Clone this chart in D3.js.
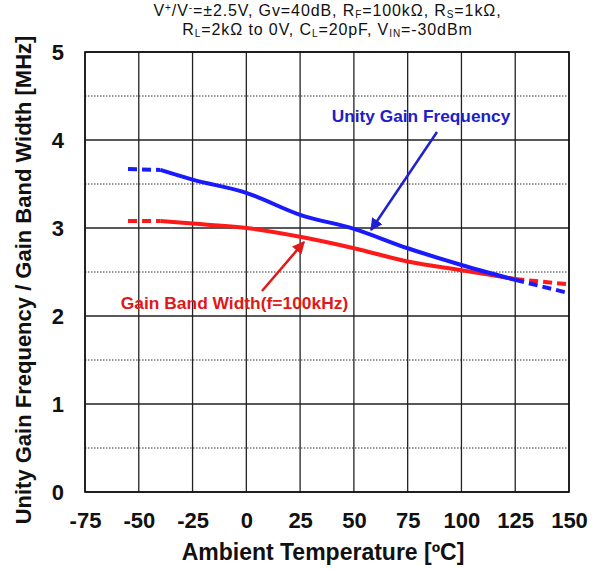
<!DOCTYPE html>
<html><head><meta charset="utf-8">
<script src="https://cdn.jsdelivr.net/npm/d3@7"></script>
<style>body{margin:0;background:#fff}svg{display:block;font-family:"Liberation Sans",Arial,sans-serif}</style>
</head><body><svg id="c" width="600" height="569"></svg>
<script>
const xTicks = [-75,-50,-25,0,25,50,75,100,125,150];
const yTicks = [0,1,2,3,4,5];
const yMinor = [0.5,1.5,2.5,3.5,4.5];
const tempSolid = [-40,-25,0,25,50,75,100,125];
const ugfSolid = [3.66,3.55,3.40,3.15,2.99,2.77,2.58,2.41];
const gbwSolid = [3.08,3.05,3.00,2.90,2.77,2.62,2.52,2.42];
const tempLow = [-55,-40];
const ugfLow = [3.67,3.66];
const gbwLow = [3.08,3.08];
const tempHigh = [125,150];
const ugfHigh = [2.41,2.26];
const gbwHigh = [2.42,2.36];

const svg = d3.select("#c");
const m = {l:85, r:569, t:52, b:492};
const x = d3.scaleLinear().domain([-75,150]).range([m.l,m.r]);
const y = d3.scaleLinear().domain([0,5]).range([m.b,m.t]);

// grid
svg.append("g").selectAll("line").data(yMinor).join("line")
  .attr("x1",m.l).attr("x2",m.r).attr("y1",d=>y(d)).attr("y2",d=>y(d))
  .attr("stroke","#333").attr("stroke-width",1).attr("stroke-dasharray","1.5,1.5");
svg.append("g").selectAll("line").data(yTicks).join("line")
  .attr("x1",m.l).attr("x2",m.r).attr("y1",d=>y(d)).attr("y2",d=>y(d))
  .attr("stroke","#222").attr("stroke-width",1.3);
svg.append("g").selectAll("line").data(xTicks).join("line")
  .attr("x1",d=>x(d)).attr("x2",d=>x(d)).attr("y1",m.t).attr("y2",m.b)
  .attr("stroke","#222").attr("stroke-width",1.3);
svg.append("rect").attr("x",m.l).attr("y",m.t).attr("width",m.r-m.l).attr("height",m.b-m.t)
  .attr("fill","none").attr("stroke","#111").attr("stroke-width",1.6);

// axes labels via d3 axes
const xa = svg.append("g").attr("transform",`translate(0,${m.b})`)
  .call(d3.axisBottom(x).tickValues(xTicks).tickFormat(d=>String(d)).tickSize(0).tickPadding(20));
const ya = svg.append("g").attr("transform",`translate(${m.l},0)`)
  .call(d3.axisLeft(y).tickValues(yTicks).tickFormat(d=>String(d)).tickSize(0).tickPadding(21));
[xa,ya].forEach(a=>{a.select(".domain").remove();
  a.selectAll("text").attr("font-size",22).attr("font-weight","bold").attr("fill","#111")
   .attr("font-family","Liberation Sans, Arial, sans-serif");});

// curves
const line = d3.line().x(d=>x(d[0])).y(d=>y(d[1])).curve(d3.curveMonotoneX);
const zip = (a,b)=>a.map((v,i)=>[v,b[i]]);
const series = [
  {t:tempSolid, v:ugfSolid, c:"#1a1aff", dash:null},
  {t:tempLow, v:ugfLow, c:"#1a1aff", dash:"9,5"},
  {t:tempHigh, v:ugfHigh, c:"#1a1aff", dash:"9,5"},
  {t:tempSolid, v:gbwSolid, c:"#ff1a1a", dash:null},
  {t:tempLow, v:gbwLow, c:"#ff1a1a", dash:"9,5"},
  {t:tempHigh, v:gbwHigh, c:"#ff1a1a", dash:"9,5"}
];
[3,4,5,0,1,2].forEach(i=>{const s=series[i];
  svg.append("path").attr("d",line(zip(s.t,s.v))).attr("fill","none")
   .attr("stroke",s.c).attr("stroke-width",4).attr("stroke-dasharray",s.dash);
});

// annotations
const defs = svg.append("defs");
[["ab","#2020d0"],["ar","#e01818"]].forEach(([id,c])=>{
  defs.append("marker").attr("id",id).attr("viewBox","0 0 10 10").attr("refX",9).attr("refY",5)
   .attr("markerWidth",5).attr("markerHeight",5).attr("orient","auto")
   .append("path").attr("d","M0,0L10,5L0,10z").attr("fill",c);
});
svg.append("line").attr("x1",437).attr("y1",132).attr("x2",371).attr("y2",230)
  .attr("stroke","#2020d0").attr("stroke-width",2.5).attr("marker-end","url(#ab)");
svg.append("text").attr("x",421).attr("y",121.5).attr("text-anchor","middle")
  .attr("font-size",17.3).attr("font-weight","bold").attr("fill","#2020c8").text("Unity Gain Frequency");
svg.append("line").attr("x1",262).attr("y1",291).attr("x2",304).attr("y2",242)
  .attr("stroke","#e01818").attr("stroke-width",2.5).attr("marker-end","url(#ar)");
svg.append("text").attr("x",234.5).attr("y",309).attr("text-anchor","middle")
  .attr("font-size",17.4).attr("font-weight","bold").attr("fill","#e01818").text("Gain Band Width(f=100kHz)");

// title
function addParts(t,parts){
  parts.forEach(([s,k])=>{
    const ts=t.append("tspan").text(s);
    if(k==="sup") ts.attr("font-size",10).attr("dy",-5);
    if(k==="sub") ts.attr("font-size",10).attr("dy",2);
    if(k==="back") ts.attr("dy",-2);
    if(k==="backsup") ts.attr("dy",5);
  });
}
const parts1 = [["V"],["+","sup"],["/V","backsup"],["-","sup"],["=±2.5V, Gv=40dB, R","backsup"],["F","sub"],["=100kΩ, R","back"],["S","sub"],["=1kΩ,","back"]];
const parts2 = [["R"],["L","sub"],["=2kΩ to 0V, C","back"],["L","sub"],["=20pF, V","back"],["IN","sub"],["=-30dBm","back"]];
const t1 = svg.append("text").attr("x",327.5).attr("y",16).attr("text-anchor","middle")
  .attr("font-size",16).attr("fill","#111").attr("letter-spacing","0.9");
addParts(t1,parts1);
const t2 = svg.append("text").attr("x",327.5).attr("y",35).attr("text-anchor","middle")
  .attr("font-size",16).attr("fill","#111").attr("letter-spacing","0.9");
addParts(t2,parts2);

// axis titles
svg.append("text").attr("x",323).attr("y",560).attr("text-anchor","middle")
  .attr("font-size",23).attr("font-weight","bold").attr("fill","#111").text("Ambient Temperature [ºC]");
svg.append("text").attr("transform","translate(31,280) rotate(-90)").attr("text-anchor","middle")
  .attr("font-size",22).attr("font-weight","bold").attr("fill","#111")
  .text("Unity Gain Frequency / Gain Band Width [MHz]");
</script></body></html>
